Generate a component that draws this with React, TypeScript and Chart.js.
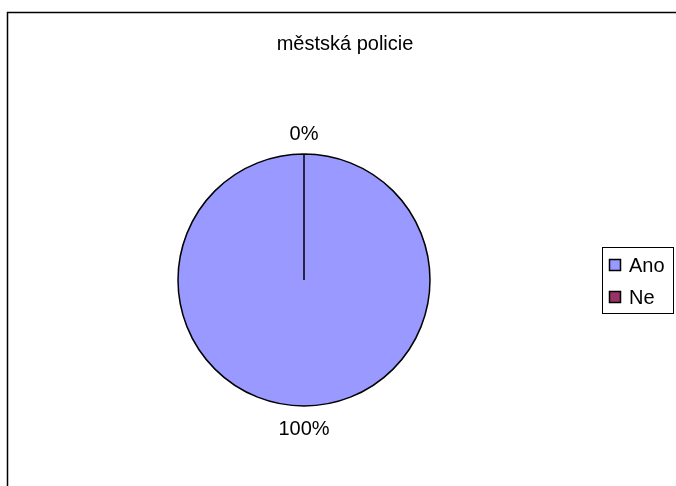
import React, { useEffect, useRef } from "react";
import { Chart, registerables } from "chart.js";

Chart.register(...registerables);

const TITLE = "městská policie";
const CATEGORIES = ["Ano", "Ne"];
const VALUES = [100, 0];
const COLORS = ["#9999FF", "#993366"];

const FONT = "'Liberation Sans', Arial, sans-serif";

const framePlugin = {
  id: "frame",
  beforeDraw(chart: any) {
    const ctx = chart.ctx;
    ctx.save();
    ctx.fillStyle = "#ffffff";
    ctx.fillRect(0, 0, chart.width, chart.height);
    ctx.strokeStyle = "#000000";
    ctx.lineWidth = 1.5;
    ctx.strokeRect(7.5, 12.5, 720, 520);
    ctx.restore();
  },
};

const labelsPlugin = {
  id: "extras",
  afterDraw(chart: any) {
    const ctx = chart.ctx;
    const meta = chart.getDatasetMeta(0);
    const data = chart.data.datasets[0].data as number[];
    const total = data.reduce((a, b) => a + b, 0);
    ctx.save();
    // title
    ctx.fillStyle = "#000";
    ctx.font = `20px ${FONT}`;
    ctx.textAlign = "center";
    ctx.textBaseline = "alphabetic";
    ctx.fillText(TITLE, 345, 50);
    // percentage labels
    meta.data.forEach((arc: any, i: number) => {
      const { x, y, startAngle, endAngle, outerRadius } = arc.getProps(
        ["x", "y", "startAngle", "endAngle", "outerRadius"],
        true
      );
      const mid = (startAngle + endAngle) / 2;
      const d = outerRadius + 21.5;
      const lx = x + Math.cos(mid) * d;
      const ly = y + Math.sin(mid) * d;
      const pct = Math.round((data[i] / total) * 100) + "%";
      ctx.fillText(pct, lx, ly + 7.2);
    });
    // legend
    ctx.lineWidth = 1;
    ctx.strokeStyle = "#000";
    ctx.strokeRect(602.5, 247.5, 71, 66);
    ctx.font = `20px ${FONT}`;
    ctx.textAlign = "left";
    ctx.textBaseline = "alphabetic";
    CATEGORIES.forEach((c, i) => {
      const cy = 265 + i * 32;
      ctx.fillStyle = COLORS[i];
      ctx.fillRect(609, cy - 6, 12, 12);
      ctx.lineWidth = 1.5;
      ctx.strokeRect(609.5, cy - 5.5, 11, 11);
      ctx.fillStyle = "#000";
      ctx.fillText(c, 629, cy + 7);
    });
    ctx.restore();
  },
};

export default function App() {
  const ref = useRef<HTMLCanvasElement>(null);
  useEffect(() => {
    if (!ref.current) return;
    const chart = new Chart(ref.current, {
      type: "pie",
      data: {
        labels: CATEGORIES,
        datasets: [
          {
            data: VALUES,
            backgroundColor: COLORS,
            borderColor: "#000000",
            borderWidth: 1.5,
            hoverOffset: 0,
          },
        ],
      },
      options: {
        responsive: false,
        animation: false,
        radius: 126,
        layout: { padding: { left: 178, right: 246, top: 154, bottom: 80 } },
        plugins: {
          legend: { display: false },
          title: { display: false },
          tooltip: { enabled: false },
        },
      } as any,
      plugins: [framePlugin, labelsPlugin],
    });
    return () => chart.destroy();
  }, []);
  return (
    <div style={{ position: "fixed", left: 0, top: 0, width: 676, height: 486 }}>
      <canvas ref={ref} width={676} height={486} style={{ width: 676, height: 486 }} />
    </div>
  );
}
